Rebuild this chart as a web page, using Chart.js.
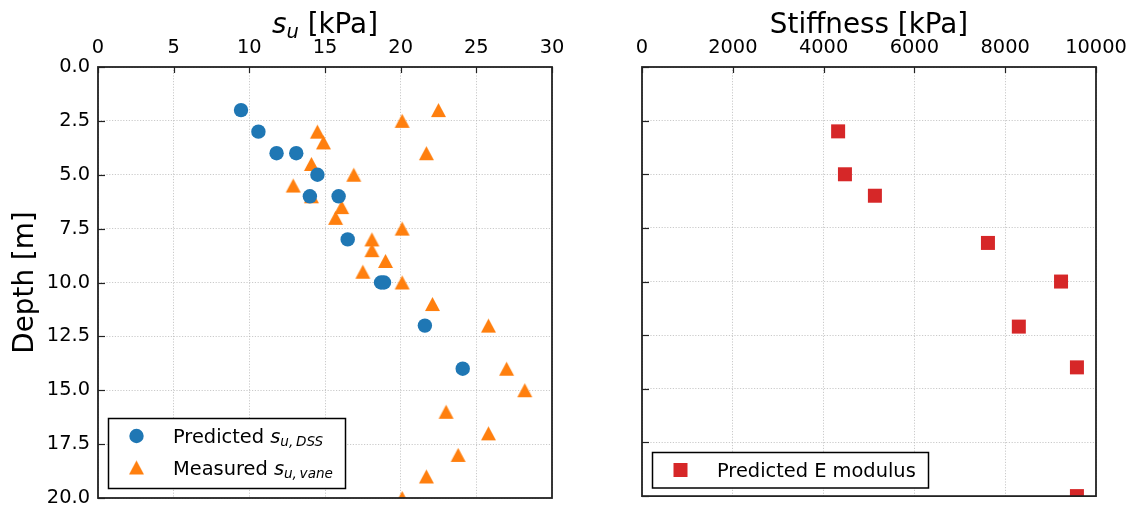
<!DOCTYPE html>
<html>
<head>
<meta charset="utf-8">
<title>Depth profiles</title>
<script src="https://cdn.jsdelivr.net/npm/chart.js@4.4.1/dist/chart.umd.min.js"></script>
<style>
  html, body { margin: 0; padding: 0; background: #fff; }
  #wrap { position: relative; width: 1131px; height: 506px; }
  .panel { position: absolute; top: 0; height: 506px; }
  #left { left: 0; width: 565px; }
  #right { left: 565px; width: 566px; }
</style>
</head>
<body>
<div id="wrap">
  <div class="panel" id="left"><canvas id="suChart" width="565" height="506"></canvas></div>
  <div class="panel" id="right"><canvas id="eChart" width="566" height="506"></canvas></div>
</div>
<script>
// predicted undrained shear strength (DSS)
const dssDepth = [2, 3, 4, 4, 5, 6, 6, 8, 10, 10, 12, 14];
const dssSu    = [9.45, 10.6, 11.8, 13.1, 14.5, 14.0, 15.9, 16.5, 18.7, 18.9, 21.6, 24.1];

// field vane measurements
const vaneDepth = [2, 2.5, 3, 3.5, 4, 4.5, 5, 5.5, 6, 6.5, 7, 7.5, 8, 8.5, 9, 9.5, 10, 11, 12, 14, 15, 16, 17, 18, 19, 20];
const vaneSu    = [22.5, 20.1, 14.5, 14.9, 21.7, 14.1, 16.9, 12.9, 14.1, 16.1, 15.7, 20.1, 18.1, 18.1, 19.0, 17.5, 20.1, 22.1, 25.8, 27.0, 28.2, 23.0, 25.8, 23.8, 21.7, 20.1];

// predicted E modulus
const eDepth = [3, 5, 6, 8.2, 10, 12.1, 14, 20];
const eMod   = [4320, 4470, 5130, 7620, 9230, 8300, 9580, 9580];

// axis ranges / ticks
const depthTicks = [0, 2.5, 5, 7.5, 10, 12.5, 15, 17.5, 20];
const suTicks = [0, 5, 10, 15, 20, 25, 30];
const eTicks = [0, 2000, 4000, 6000, 8000, 10000];

const BLUE = '#1f77b4', ORANGE = '#ff7f0e', RED = '#d62728';
const FONT = '"DejaVu Sans", sans-serif';
const TICK_PX = 19.4, TITLE_PX = 27.8;

const toPts = (xs, ys) => xs.map((x, i) => ({ x: x, y: ys[i] }));

// matplotlib-style '^' marker: bbox centred on the point
function triangleMarker(w, h, color) {
  const c = document.createElement('canvas');
  c.width = Math.ceil(w) + 2; c.height = Math.ceil(h) + 2;
  const g = c.getContext('2d');
  const cx = c.width / 2, cy = c.height / 2;
  g.fillStyle = color;
  g.beginPath();
  g.moveTo(cx, cy - h / 2);
  g.lineTo(cx + w / 2, cy + h / 2);
  g.lineTo(cx - w / 2, cy + h / 2);
  g.closePath();
  g.fill();
  return c;
}
const triImg = triangleMarker(15, 14, ORANGE);

// draws a run of text pieces; {t, it, sub} -> italic / subscript
function richWidth(ctx, parts, size) {
  let w = 0;
  parts.forEach(p => {
    const s = p.sub ? size * 0.7 : size;
    ctx.font = (p.it ? 'italic ' : '') + s + 'px ' + FONT;
    w += ctx.measureText(p.t).width;
  });
  return w;
}
function drawRich(ctx, parts, x, y, size, align) {
  let cx = align === 'center' ? x - richWidth(ctx, parts, size) / 2 : x;
  ctx.save();
  ctx.textAlign = 'left';
  ctx.textBaseline = 'alphabetic';
  ctx.fillStyle = '#000';
  parts.forEach(p => {
    const s = p.sub ? size * 0.7 : size;
    ctx.font = (p.it ? 'italic ' : '') + s + 'px ' + FONT;
    ctx.fillText(p.t, cx, p.sub ? y + size * 0.17 : y);
    cx += ctx.measureText(p.t).width;
  });
  ctx.restore();
}

// frame, inward ticks, axis titles and legend
function panelDecor(opts) {
  return {
    id: 'panelDecor',
    afterDatasetsDraw(chart) {
      const ctx = chart.ctx;
      const a = chart.chartArea;
      const xs = chart.scales.x, ys = chart.scales.y;
      ctx.save();
      ctx.strokeStyle = '#222';
      ctx.lineWidth = 1.2;
      depthTicks.forEach(v => {
        const py = Math.round(ys.getPixelForValue(v)) + 0.5;
        ctx.beginPath(); ctx.moveTo(a.left, py); ctx.lineTo(a.left + 7, py); ctx.stroke();
      });
      opts.xTicks.forEach(v => {
        const px = Math.round(xs.getPixelForValue(v)) + 0.5;
        ctx.beginPath(); ctx.moveTo(px, a.top); ctx.lineTo(px, a.top + 6); ctx.stroke();
      });
      ctx.lineWidth = 1.8;
      ctx.strokeRect(a.left, a.top, a.right - a.left, a.bottom - a.top);
      ctx.restore();

      drawRich(ctx, opts.title, (a.left + a.right) / 2, 33, TITLE_PX, 'center');

      if (opts.yTitle) {
        ctx.save();
        ctx.translate(33, (a.top + a.bottom) / 2);
        ctx.rotate(-Math.PI / 2);
        drawRich(ctx, [{ t: opts.yTitle }], 0, 0, TITLE_PX, 'center');
        ctx.restore();
      }

      // legend
      const L = opts.legend;
      ctx.save();
      ctx.fillStyle = '#fff';
      ctx.fillRect(L.x, L.y, L.w, L.h);
      ctx.strokeStyle = '#000';
      ctx.lineWidth = 1.5;
      ctx.strokeRect(L.x, L.y, L.w, L.h);
      L.rows.forEach((r, i) => {
        const my = L.y + L.first + i * L.gap;
        const mx = L.x + 28;
        ctx.fillStyle = r.color;
        if (r.marker === 'circle') {
          ctx.beginPath(); ctx.arc(mx, my, 7.2, 0, Math.PI * 2); ctx.fill();
        } else if (r.marker === 'triangle') {
          ctx.drawImage(triImg, mx - triImg.width / 2, my - triImg.height / 2);
        } else {
          ctx.fillRect(mx - 7, my - 7, 14, 14);
        }
        drawRich(ctx, r.label, L.x + 64.5, my + 7, TICK_PX, 'left');
      });
      ctx.restore();
    }
  };
}

function fixBox(size) {
  return function (scale) {
    if (scale.isHorizontal()) scale.height = size; else scale.width = size;
    scale.paddingLeft = scale.paddingRight = scale.paddingTop = scale.paddingBottom = 0;
  };
}

function makeChart(id, cfg) {
  return new Chart(document.getElementById(id), {
    type: 'scatter',
    data: { datasets: cfg.datasets },
    options: {
      responsive: false,
      animation: false,
      events: [],
      layout: { padding: cfg.padding },
      plugins: { legend: { display: false }, tooltip: { enabled: false } },
      scales: {
        x: {
          type: 'linear', position: 'top',
          min: cfg.xMin, max: cfg.xMax,
          afterFit: fixBox(67),
          afterBuildTicks: s => { s.ticks = cfg.xTicks.map(v => ({ value: v })); },
          ticks: { color: '#000', padding: 7, maxRotation: 0, font: { family: FONT, size: TICK_PX },
                   callback: v => String(v) },
          grid: { color: 'rgba(176,176,176,0.85)', lineWidth: 0.8, drawTicks: false },
          border: { display: false, dash: [1.2, 1.6] }
        },
        y: {
          type: 'linear', reverse: true, min: 0, max: 20,
          afterFit: fixBox(cfg.yWidth),
          afterBuildTicks: s => { s.ticks = depthTicks.map(v => ({ value: v })); },
          ticks: { color: '#000', padding: 8, display: cfg.yLabels, font: { family: FONT, size: TICK_PX },
                   callback: v => v.toFixed(1) },
          grid: { color: 'rgba(176,176,176,0.85)', lineWidth: 0.8, drawTicks: false },
          border: { display: false, dash: [1.2, 1.6] }
        }
      }
    },
    plugins: [panelDecor(cfg)]
  });
}

makeChart('suChart', {
  padding: { left: 0, top: 0, right: 13, bottom: 8 },
  yWidth: 98,
  yLabels: true,
  xMin: 0, xMax: 30,
  xTicks: suTicks,
  title: [{ t: 's', it: true }, { t: 'u', it: true, sub: true }, { t: ' [kPa]' }],
  yTitle: 'Depth [m]',
  legend: {
    x: 108.5, y: 418.5, w: 237, h: 70, first: 17.5, gap: 31.5,
    rows: [
      { marker: 'circle', color: BLUE,
        label: [{ t: 'Predicted ' }, { t: 's', it: true }, { t: 'u,\u2009DSS', it: true, sub: true }] },
      { marker: 'triangle', color: ORANGE,
        label: [{ t: 'Measured ' }, { t: 's', it: true }, { t: 'u,\u2009vane', it: true, sub: true }] }
    ]
  },
  datasets: [
    { label: 'Predicted su,DSS', data: toPts(dssSu, dssDepth), pointStyle: 'circle',
      pointRadius: 7.2, backgroundColor: BLUE, borderWidth: 0, clip: 0 },
    { label: 'Measured su,vane', data: toPts(vaneSu, vaneDepth), pointStyle: triImg,
      pointRadius: 8, backgroundColor: ORANGE, borderWidth: 0, clip: 0 }
  ]
});

makeChart('eChart', {
  padding: { left: 0, top: 0, right: 35, bottom: 8 },
  yWidth: 77,
  yLabels: false,
  xMin: 0, xMax: 10000,
  xTicks: eTicks,
  title: [{ t: 'Stiffness [kPa]' }],
  yTitle: null,
  legend: {
    x: 87.5, y: 452.5, w: 276, h: 35.5, first: 17.5, gap: 0,
    rows: [
      { marker: 'rect', color: RED, label: [{ t: 'Predicted E modulus' }] }
    ]
  },
  datasets: [
    { label: 'Predicted E modulus', data: toPts(eMod, eDepth), pointStyle: 'rect',
      pointRadius: 9.9, backgroundColor: RED, borderWidth: 0, clip: 0 }
  ]
});
</script>
</body>
</html>
